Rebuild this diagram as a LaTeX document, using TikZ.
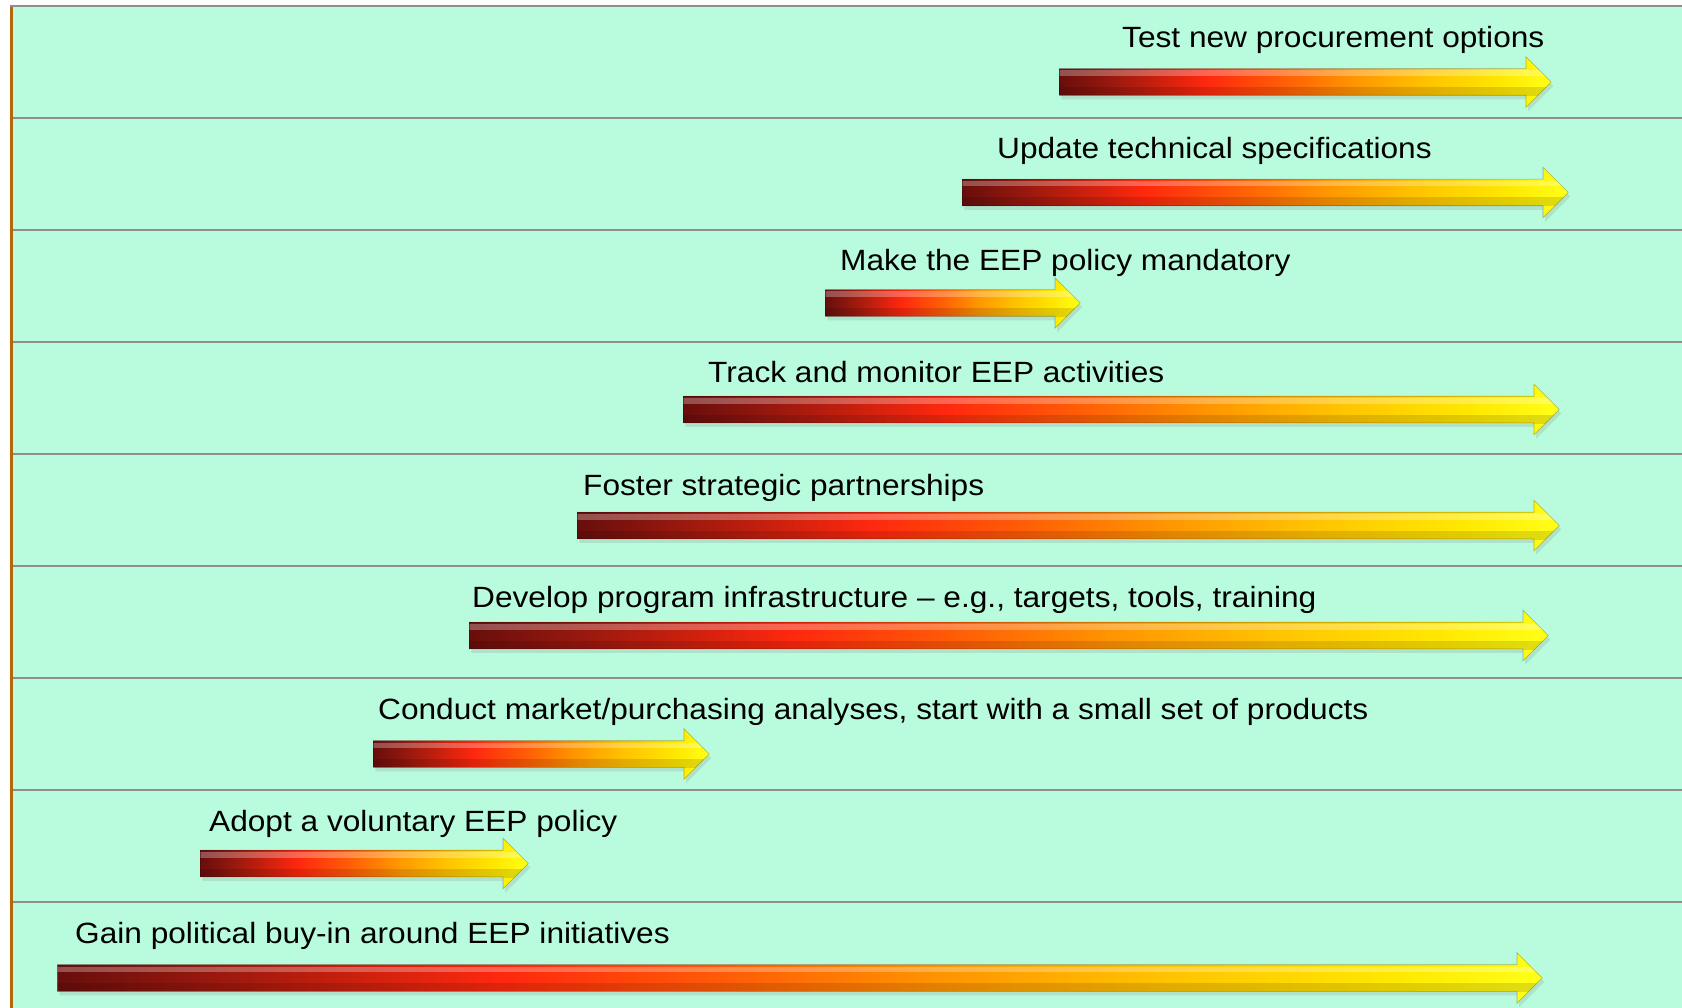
\documentclass[tikz,border=0pt]{standalone}
\usepackage{fontspec}
\setmainfont[FakeStretch=1.08]{Liberation Sans}
\usetikzlibrary{positioning, shapes.arrows, shadows}

\definecolor{mint}{RGB}{185,252,221}
\definecolor{rowgray}{RGB}{142,142,142}
\definecolor{edgebrown}{RGB}{184,102,12}
\definecolor{bar0}{RGB}{104,14,12}
\definecolor{bar1}{RGB}{150,24,14}
\definecolor{bar2}{RGB}{255,40,14}
\definecolor{bar3}{RGB}{255,92,6}
\definecolor{bar4}{RGB}{255,150,0}
\definecolor{bar5}{RGB}{255,196,0}
\definecolor{bar6}{RGB}{255,232,0}
\definecolor{bar7}{RGB}{255,255,24}
\pgfdeclarehorizontalshading{eepbar}{100bp}{color(0bp)=(bar0); color(25bp)=(bar0);
	color(30bp)=(bar1); color(40bp)=(bar2); color(47.5bp)=(bar3); color(55bp)=(bar4);
	color(62.5bp)=(bar5); color(70bp)=(bar6); color(75bp)=(bar7); color(100bp)=(bar7)}

\begin{document}
\begin{tikzpicture}[x=1pt, y=-1pt,
	lbl/.style={anchor=base west, inner sep=0pt, font=\fontsize{29.3}{35}\selectfont},
	bar/.style={single arrow, single arrow tip angle=90, single arrow head extend=12pt,
		inner xsep=0pt, inner ysep=13pt, anchor=tail, shade, shading=eepbar,
		draw=black, draw opacity=0.28, line width=0.6pt,
		drop shadow={shadow xshift=2pt, shadow yshift=-4pt, opacity=0.2},
		path picture={
			\fill[white, opacity=0.28] ([yshift=11.5pt]path picture bounding box.west) rectangle ([yshift=6pt]path picture bounding box.east);
			\fill[black, opacity=0.12] ([yshift=-5pt]path picture bounding box.west) rectangle ([yshift=-14pt]path picture bounding box.east);
		}}]
		
		\useasboundingbox (0,0) rectangle (1682,1008);
		
		%Background and rows
		\fill[mint] (10,6) rectangle (1682,1008);
		\draw[rowgray, line width=2.2pt] (10,6) -- (1682,6);
		\draw[rowgray, line width=2.2pt] (10,118) -- (1682,118);
		\draw[rowgray, line width=2.2pt] (10,230) -- (1682,230);
		\draw[rowgray, line width=2.2pt] (10,342) -- (1682,342);
		\draw[rowgray, line width=2.2pt] (10,454) -- (1682,454);
		\draw[rowgray, line width=2.2pt] (10,566) -- (1682,566);
		\draw[rowgray, line width=2.2pt] (10,678) -- (1682,678);
		\draw[rowgray, line width=2.2pt] (10,790) -- (1682,790);
		\draw[rowgray, line width=2.2pt] (10,902) -- (1682,902);
		\draw[edgebrown, line width=2.6pt] (11.3,7) -- (11.3,1008);
		
		%Arrows
		\node[bar, minimum height=492pt] (test) at (1059,82) {};
		\node[bar, minimum height=606pt] (update) at (962,192.5) {};
		\node[bar, minimum height=255pt] (mandatory) at (825,303) {};
		\node[bar, minimum height=876pt] (track) at (683,409.5) {};
		\node[bar, minimum height=982pt] (foster) at (577,525.5) {};
		\node[bar, minimum height=1079pt] (develop) at (469,635.5) {};
		\node[bar, minimum height=336pt] (conduct) at (373,754) {};
		\node[bar, minimum height=328pt] (adopt) at (200,863.5) {};
		\node[bar, minimum height=1485pt] (gain) at (57,978) {};
		
		%Labels
		\node[lbl] (testL) at (1122,48) {Test new procurement options};
		\node[lbl] (updateL) at (997,159) {Update technical specifications};
		\node[lbl] (mandatoryL) at (840,271) {Make the EEP policy mandatory};
		\node[lbl] (trackL) at (708,383) {Track and monitor EEP activities};
		\node[lbl] (fosterL) at (583,495) {Foster strategic partnerships};
		\node[lbl] (developL) at (472,607) {Develop program infrastructure – e.g., targets, tools, training};
		\node[lbl] (conductL) at (378,719) {Conduct market/purchasing analyses, start with a small set of products};
		\node[lbl] (adoptL) at (209,831) {Adopt a voluntary EEP policy};
		\node[lbl] (gainL) at (75,943) {Gain political buy-in around EEP initiatives};
		
\end{tikzpicture}
\end{document}
